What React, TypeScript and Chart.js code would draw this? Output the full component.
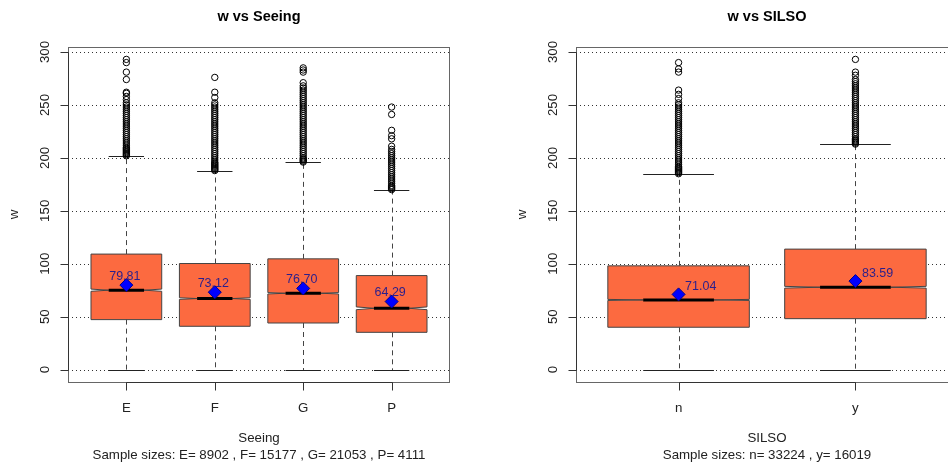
import { useEffect, useRef } from 'react';
import { Chart, registerables } from 'chart.js';

Chart.register(...registerables);

const FONT = '"Liberation Sans", Arial, Helvetica, sans-serif';

// ---------- shared axis ----------
const yTicks = [0, 50, 100, 150, 200, 250, 300];
const yMin = -11.72;
const yMax = 304.72;

// ---------- panel 1: w vs Seeing ----------
const seeingCategories = ['E', 'F', 'G', 'P'];
const seeingQ1 = [47.2, 40.9, 44.0, 35.2];
const seeingMedian = [75.0, 67.1, 72.1, 57.9];
const seeingQ3 = [109.1, 100.2, 104.6, 88.8];
const seeingLowerWhisker = [0, 0, 0, 0];
const seeingUpperWhisker = [201.9, 188.0, 196.2, 170.0];
const seeingMeans = [79.81, 73.12, 76.7, 64.29];
const seeingN = [8902, 15177, 21053, 4111];
const seeingOutliersE = [
  202, 203, 204, 205, 206, 207, 208, 209, 210, 212, 214, 216, 218, 220, 222, 224, 226, 228, 230,
  232, 234, 236, 238, 240, 242, 244, 246, 248, 250, 252, 255, 258, 261, 262, 274, 281, 290, 293,
];
const seeingOutliersF = [
  188, 189, 190, 191, 192, 193, 194, 195, 196, 198, 200, 202, 204, 206, 208, 210, 212, 214, 216,
  218, 220, 222, 224, 226, 228, 230, 232, 234, 236, 238, 240, 242, 244, 246, 248, 250, 252, 257,
  262, 276,
];
const seeingOutliersG = [
  196, 197, 198, 199, 200, 202, 204, 206, 208, 210, 212, 214, 216, 218, 220, 222, 224, 226, 228,
  230, 232, 234, 236, 238, 240, 242, 244, 246, 248, 250, 252, 254, 256, 258, 260, 262, 264, 266,
  268, 271, 281, 283, 285,
];
const seeingOutliersP = [
  170, 171, 172, 173, 174, 176, 178, 180, 182, 184, 186, 188, 190, 192, 194, 196, 198, 200, 202,
  204, 206, 208, 211, 218, 221, 226, 241, 248,
];

// ---------- panel 2: w vs SILSO ----------
const silsoCategories = ['n', 'y'];
const silsoQ1 = [40.0, 48.1];
const silsoMedian = [65.8, 77.8];
const silsoQ3 = [98.0, 113.8];
const silsoLowerWhisker = [0, 0];
const silsoUpperWhisker = [184.8, 213.2];
const silsoMeans = [71.04, 83.59];
const silsoN = [33224, 16019];
const silsoOutliersN = [
  185, 186, 187, 188, 189, 190, 191, 192, 194, 196, 198, 200, 202, 204, 206, 208, 210, 212, 214,
  216, 218, 220, 222, 224, 226, 228, 230, 232, 234, 236, 238, 240, 242, 244, 246, 248, 250, 252,
  256, 260, 264, 281, 284, 290,
];
const silsoOutliersY = [
  213, 214, 215, 216, 217, 218, 220, 222, 224, 226, 228, 230, 232, 234, 236, 238, 240, 242, 244,
  246, 248, 250, 252, 254, 256, 258, 260, 262, 264, 266, 268, 270, 272, 274, 278, 281, 293,
];

type Panel = {
  title: string;
  xTitle: string;
  categories: string[];
  q1: number[];
  median: number[];
  q3: number[];
  lo: number[];
  hi: number[];
  means: number[];
  n: number[];
  outliers: number[][];
  labelMode: 'center' | 'right';
  padding: { left: number; right: number; top: number; bottom: number };
};

const seeingPanel: Panel = {
  title: 'w vs Seeing',
  xTitle: 'Seeing',
  categories: seeingCategories,
  q1: seeingQ1,
  median: seeingMedian,
  q3: seeingQ3,
  lo: seeingLowerWhisker,
  hi: seeingUpperWhisker,
  means: seeingMeans,
  n: seeingN,
  outliers: [seeingOutliersE, seeingOutliersF, seeingOutliersG, seeingOutliersP],
  labelMode: 'center',
  padding: { left: 68, right: 24, top: 47, bottom: 85 },
};

const silsoPanel: Panel = {
  title: 'w vs SILSO',
  xTitle: 'SILSO',
  categories: silsoCategories,
  q1: silsoQ1,
  median: silsoMedian,
  q3: silsoQ3,
  lo: silsoLowerWhisker,
  hi: silsoUpperWhisker,
  means: silsoMeans,
  n: silsoN,
  outliers: [silsoOutliersN, silsoOutliersY],
  labelMode: 'right',
  padding: { left: 102, right: 26, top: 47, bottom: 85 },
};

const BOX_FILL = '#FC6A40';
const BOX_BORDER = '#444444';
const AXIS_FONT = `13.3px ${FONT}`;

function makeChart(canvas: HTMLCanvasElement, p: Panel) {
  const k = p.categories.length;
  const xmin = 0.5 - 0.04 * k;
  const xmax = k + 0.5 + 0.04 * k;

  const outlierPts: { x: number; y: number }[] = [];
  p.outliers.forEach((arr, i) => arr.forEach((v) => outlierPts.push({ x: i + 1, y: v })));
  const meanPts = p.means.map((m, i) => ({ x: i + 1, y: m }));

  const boxPlugin = {
    id: 'rbox',
    beforeDatasetsDraw(chart: any) {
      const ctx = chart.ctx as CanvasRenderingContext2D;
      const xs = chart.scales.x;
      const ys = chart.scales.y;
      const a = chart.chartArea;
      ctx.save();
      // dotted grid
      ctx.strokeStyle = '#333';
      ctx.lineWidth = 1;
      ctx.setLineDash([1, 3]);
      yTicks.forEach((t) => {
        const y = Math.round(ys.getPixelForValue(t)) + 0.5;
        ctx.beginPath();
        ctx.moveTo(a.left, y);
        ctx.lineTo(a.right, y);
        ctx.stroke();
      });
      ctx.setLineDash([]);

      const hw = 0.4;
      for (let i = 0; i < k; i++) {
        const c = i + 1;
        const xc = Math.round(xs.getPixelForValue(c)) + 0.5;
        const xl = xs.getPixelForValue(c - hw);
        const xr = xs.getPixelForValue(c + hw);
        const xl2 = xs.getPixelForValue(c - hw / 2);
        const xr2 = xs.getPixelForValue(c + hw / 2);
        const iqr = p.q3[i] - p.q1[i];
        const notch = (1.58 * iqr) / Math.sqrt(p.n[i]);
        const yq1 = ys.getPixelForValue(p.q1[i]);
        const yq3 = ys.getPixelForValue(p.q3[i]);
        const ymed = ys.getPixelForValue(p.median[i]);
        const yNlo = ys.getPixelForValue(p.median[i] - notch);
        const yNhi = ys.getPixelForValue(p.median[i] + notch);
        const yLo = Math.round(ys.getPixelForValue(p.lo[i])) + 0.5;
        const yHi = Math.round(ys.getPixelForValue(p.hi[i])) + 0.5;

        // whiskers (dashed)
        ctx.strokeStyle = '#444';
        ctx.lineWidth = 1;
        ctx.setLineDash([5, 4]);
        ctx.beginPath();
        ctx.moveTo(xc, yq3);
        ctx.lineTo(xc, yHi);
        ctx.moveTo(xc, yq1);
        ctx.lineTo(xc, yLo);
        ctx.stroke();
        ctx.setLineDash([]);

        // caps
        ctx.strokeStyle = '#222';
        ctx.beginPath();
        ctx.moveTo(xl2, yHi);
        ctx.lineTo(xr2, yHi);
        ctx.moveTo(xl2, yLo);
        ctx.lineTo(xr2, yLo);
        ctx.stroke();

        // notched box
        ctx.beginPath();
        ctx.moveTo(xl, yq1);
        ctx.lineTo(xl, yNlo);
        ctx.lineTo(xl2, ymed);
        ctx.lineTo(xl, yNhi);
        ctx.lineTo(xl, yq3);
        ctx.lineTo(xr, yq3);
        ctx.lineTo(xr, yNhi);
        ctx.lineTo(xr2, ymed);
        ctx.lineTo(xr, yNlo);
        ctx.lineTo(xr, yq1);
        ctx.closePath();
        ctx.fillStyle = BOX_FILL;
        ctx.fill();
        ctx.strokeStyle = BOX_BORDER;
        ctx.lineWidth = 1;
        ctx.stroke();

        // median
        ctx.strokeStyle = '#000';
        ctx.lineWidth = 3;
        ctx.beginPath();
        ctx.moveTo(xl2, ymed);
        ctx.lineTo(xr2, ymed);
        ctx.stroke();
      }
      ctx.restore();
    },
    afterDatasetsDraw(chart: any) {
      const ctx = chart.ctx as CanvasRenderingContext2D;
      const xs = chart.scales.x;
      const ys = chart.scales.y;
      ctx.save();
      ctx.font = `12.5px ${FONT}`;
      ctx.fillStyle = '#2a1f8c';
      ctx.textBaseline = 'middle';
      for (let i = 0; i < k; i++) {
        const x = xs.getPixelForValue(i + 1);
        const y = ys.getPixelForValue(p.means[i]);
        const label = p.means[i].toFixed(2);
        if (p.labelMode === 'center') {
          ctx.textAlign = 'center';
          ctx.fillText(label, x - 1.5, y - 8.5);
        } else {
          ctx.textAlign = 'left';
          ctx.fillText(label, x + 6.5, y - 8);
        }
      }
      ctx.restore();
    },
    afterDraw(chart: any) {
      const ctx = chart.ctx as CanvasRenderingContext2D;
      const xs = chart.scales.x;
      const ys = chart.scales.y;
      const a = chart.chartArea;
      ctx.save();
      // frame
      ctx.strokeStyle = '#666';
      ctx.lineWidth = 1;
      ctx.strokeRect(a.left + 0.5, a.top + 0.5, a.right - a.left - 1, a.bottom - a.top);
      // y axis ticks + labels
      ctx.strokeStyle = '#333';
      ctx.fillStyle = '#222';
      ctx.font = AXIS_FONT;
      ctx.beginPath();
      const axX = a.left + 0.5;
      const y0 = Math.round(ys.getPixelForValue(yTicks[0])) + 0.5;
      const y1 = Math.round(ys.getPixelForValue(yTicks[yTicks.length - 1])) + 0.5;
      ctx.moveTo(axX, y0);
      ctx.lineTo(axX, y1);
      yTicks.forEach((t) => {
        const y = Math.round(ys.getPixelForValue(t)) + 0.5;
        ctx.moveTo(axX, y);
        ctx.lineTo(axX - 8, y);
      });
      ctx.stroke();
      yTicks.forEach((t) => {
        const y = ys.getPixelForValue(t);
        ctx.save();
        ctx.translate(axX - 23, y);
        ctx.rotate(-Math.PI / 2);
        ctx.textAlign = 'center';
        ctx.textBaseline = 'middle';
        ctx.fillText(String(t), 0, 0);
        ctx.restore();
      });
      // y title
      ctx.save();
      ctx.translate(axX - 54, (a.top + a.bottom) / 2);
      ctx.rotate(-Math.PI / 2);
      ctx.textAlign = 'center';
      ctx.textBaseline = 'middle';
      ctx.fillText('w', 0, 0);
      ctx.restore();

      // x axis ticks + labels
      const axY = a.bottom + 0.5;
      const xFirst = Math.round(xs.getPixelForValue(1)) + 0.5;
      const xLast = Math.round(xs.getPixelForValue(k)) + 0.5;
      ctx.beginPath();
      ctx.moveTo(xFirst, axY);
      ctx.lineTo(xLast, axY);
      for (let i = 0; i < k; i++) {
        const x = Math.round(xs.getPixelForValue(i + 1)) + 0.5;
        ctx.moveTo(x, axY);
        ctx.lineTo(x, axY + 8);
      }
      ctx.stroke();
      ctx.textAlign = 'center';
      ctx.textBaseline = 'middle';
      for (let i = 0; i < k; i++) {
        ctx.fillText(p.categories[i], xs.getPixelForValue(i + 1), axY + 26);
      }
      const cx = (a.left + a.right) / 2;
      ctx.fillText(p.xTitle, cx, axY + 56);
      const sizes = 'Sample sizes: ' + p.categories.map((c, i) => `${c}= ${p.n[i]}`).join(' , ');
      ctx.fillText(sizes, cx, axY + 73);

      // title
      ctx.font = `bold 14.5px ${FONT}`;
      ctx.fillStyle = '#000';
      ctx.fillText(p.title, cx, 17);
      ctx.restore();
    },
  };

  return new Chart(canvas, {
    type: 'scatter',
    data: {
      datasets: [
        {
          label: 'mean',
          data: meanPts,
          pointStyle: 'rectRot',
          pointRadius: 6.5,
          backgroundColor: '#0000FF',
          borderColor: '#00008B',
          borderWidth: 1,
        },
        {
          label: 'outliers',
          data: outlierPts,
          pointStyle: 'circle',
          pointRadius: 3.2,
          backgroundColor: 'rgba(0,0,0,0)',
          borderColor: '#000',
          borderWidth: 1,
        },
      ],
    },
    options: {
      animation: false,
      responsive: false,
      devicePixelRatio: 1,
      events: [],
      layout: { padding: p.padding },
      plugins: { legend: { display: false }, tooltip: { enabled: false }, title: { display: false } },
      scales: {
        x: { type: 'linear', min: xmin, max: xmax, display: false },
        y: { type: 'linear', min: yMin, max: yMax, display: false },
      },
    },
    plugins: [boxPlugin],
  });
}

export default function App() {
  const leftRef = useRef<HTMLCanvasElement | null>(null);
  const rightRef = useRef<HTMLCanvasElement | null>(null);
  useEffect(() => {
    const c1 = makeChart(leftRef.current as HTMLCanvasElement, seeingPanel);
    const c2 = makeChart(rightRef.current as HTMLCanvasElement, silsoPanel);
    return () => {
      c1.destroy();
      c2.destroy();
    };
  }, []);
  return (
    <div
      style={{
        position: 'fixed',
        left: 0,
        top: 0,
        width: 948,
        height: 467,
        overflow: 'hidden',
        background: '#ffffff',
      }}
    >
      <canvas ref={leftRef} width={474} height={467} style={{ position: 'absolute', left: 0, top: 0 }} />
      <canvas ref={rightRef} width={510} height={467} style={{ position: 'absolute', left: 474, top: 0 }} />
    </div>
  );
}
